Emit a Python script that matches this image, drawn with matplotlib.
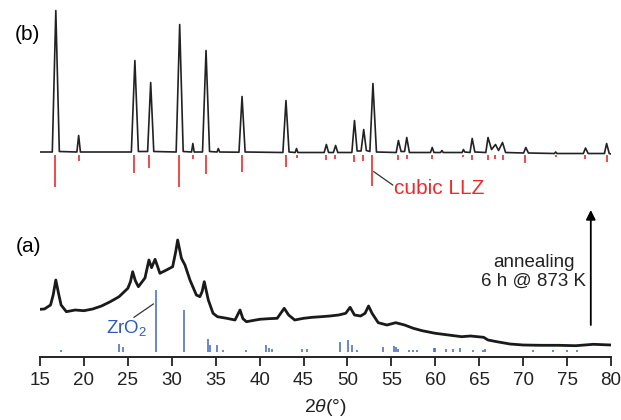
import matplotlib
matplotlib.use("Agg")
import matplotlib.pyplot as plt

# (b) pattern after annealing: 2theta and counts above its own baseline
b_two_theta = [15.0,
               16.4, 16.8, 17.2, 19.2, 19.4, 19.6,
               25.4, 25.8, 26.2, 27.25, 27.6, 27.95,
               30.5, 30.9, 31.3, 32.25, 32.4, 32.55,
               33.5, 33.9, 34.3, 35.15, 35.3, 35.45,
               37.65, 38.0, 38.35, 42.65, 43.0, 43.35, 44.05, 44.2, 44.35,
               47.35, 47.6, 47.85, 48.4, 48.65, 48.9,
               50.5, 50.8, 51.1, 51.55, 51.85, 52.15, 52.55, 52.9, 53.3,
               55.55, 55.8, 56.1, 56.5, 56.75, 57.05,
               59.45, 59.65, 59.85, 60.6, 60.75, 60.9,
               63.05, 63.2, 63.35, 63.95, 64.2, 64.5,
               65.75, 66.0, 66.4, 66.85, 67.2, 67.65, 68.0,
               70.05, 70.3, 70.6, 73.55, 73.7, 73.85,
               76.85, 77.1, 77.4, 79.25, 79.5, 79.8, 80.0]
b_counts = [0.5,
            0.5, 142, 1, 0.5, 17, 0.5,
            0.5, 92, 1, 1, 70, 1,
            0.5, 128, 1, 0.5, 9, 0.5,
            0.5, 102, 1, 0.5, 4, 0.5,
            0.3, 56, 0.5, 0, 52, 0.5, 0, 4, 0,
            0, 8, 0, 0, 7, 0,
            0, 32, 1.5, 1.5, 23, 2, 1, 69, 0.5,
            0, 12, 1, 1, 15, 0,
            0, 5, 0, 0, 2, 0,
            0, 3, 0.5, 0, 14, 0.5,
            0, 15, 3, 8, 2, 10, 0,
            -0.5, 5, -0.5, -1, 0.5, -1,
            -1, 4.5, -1, -1, 9, -1, -1.5]

# (a) as-prepared pattern
a_two_theta = [15.0, 15.5, 16.2, 16.5, 16.8, 17.1, 17.4, 18.0, 19.0, 20.0,
               21.0, 22.0, 23.0, 24.0, 25.0, 25.3, 25.55, 25.85, 26.2, 26.95,
               27.4, 27.7, 28.1, 28.65, 29.4, 30.1, 30.45, 30.67, 31.1, 31.5,
               32.07, 32.8, 33.2, 33.45, 33.7, 34.16, 34.7, 35.2, 36.25, 37.2,
               37.77, 38.1, 38.5, 40.0, 41.0, 42.0, 42.8, 43.3, 44.0, 45.0,
               46.0, 47.0, 48.0, 49.0, 49.8, 50.3, 50.8, 51.5, 52.0, 52.4,
               52.8, 53.5, 54.5, 55.5, 56.5, 57.5, 58.5, 60.0, 61.5, 63.0,
               64.0, 65.5, 66.0, 67.0, 68.5, 70.0, 72.0, 74.0, 76.0, 78.0,
               80.0]
a_counts = [42.4, 42.7, 46.7, 56.7, 71.7, 58.7, 46.7, 40.0, 41.7, 41.0,
            42.7, 45.7, 50.0, 55.0, 63.4, 70.0, 80.0, 71.0, 65.0, 73.7,
            91.7, 84.0, 92.4, 78.4, 81.7, 85.0, 100.0, 111.7, 93.4, 86.7,
            71.7, 56.7, 55.0, 60.0, 70.0, 51.7, 38.4, 35.0, 33.4, 31.7,
            41.7, 33.0, 30.0, 32.4, 33.0, 33.4, 43.4, 36.7, 31.7, 33.4,
            34.4, 35.0, 35.7, 36.7, 38.4, 44.4, 36.7, 35.7, 38.4, 45.7,
            38.4, 29.0, 26.7, 29.0, 26.7, 23.4, 21.0, 18.4, 16.7, 15.0,
            15.7, 14.4, 11.7, 10.0, 7.7, 6.7, 6.4, 6.4, 6.0, 7.4,
            6.7]

# reference reflections, relative intensity in %
llz_two_theta = [16.75, 19.4, 25.75, 27.45, 30.85, 32.4, 33.85, 38.0, 43.0, 44.2,
                 47.6, 48.6, 50.8, 51.8, 52.85, 55.8, 56.75, 59.65, 63.2, 64.15,
                 65.95, 66.85, 67.7, 70.25, 73.7, 77.05, 79.5]
llz_rel = [97, 18, 54, 40, 97, 13, 58, 50, 38, 10,
           16, 13, 22, 20, 92, 15, 13, 13, 8, 16,
           16, 13, 16, 26, 8, 13, 23]

zro2_two_theta = [17.4, 24.0, 24.4, 28.17, 31.4, 34.1, 34.35, 35.2, 35.8, 38.5,
                  40.7, 41.1, 41.4, 44.85, 45.45, 49.2, 50.05, 50.5, 51.1, 54.1,
                  55.3, 55.5, 55.8, 57.0, 57.5, 57.9, 59.8, 60.0, 61.2, 62.0,
                  62.8, 64.3, 65.45, 65.7, 71.1, 73.4, 75.0, 76.1]
zro2_rel = [3, 13, 8, 100, 68, 21, 11, 11, 3, 3,
            11, 6, 5, 5, 5, 16, 19, 11, 3, 8,
            10, 8, 5, 3, 3, 3, 6, 6, 5, 5,
            6, 3, 3, 5, 2, 2, 2, 2]

xticks = [15, 20, 25, 30, 35, 40, 45, 50, 55, 60, 65, 70, 75, 80]


def main():
    plt.rcParams["font.family"] = ["Liberation Sans", "DejaVu Sans"]
    plt.rcParams["mathtext.fontset"] = "custom"
    plt.rcParams["mathtext.rm"] = "Liberation Sans"
    plt.rcParams["mathtext.it"] = "Liberation Sans:italic"

    fig = plt.figure(figsize=(6.21, 4.20), dpi=100)
    ax = fig.add_axes([40 / 621, 63 / 420, 571 / 621, 357 / 420])

    offset_a = 5.3
    offset_b = 204.5
    llz_top = 202.5
    llz_scale = 0.34
    zro2_scale = 0.62

    ax.plot(a_two_theta, [c + offset_a for c in a_counts], color="#1a1a1a", lw=2.0)
    ax.plot(b_two_theta, [c + offset_b for c in b_counts], color="#222222", lw=1.2)

    ax.vlines(llz_two_theta, [llz_top - r * llz_scale for r in llz_rel], llz_top,
              color="#ee2a2a", lw=1.2)
    ax.vlines(zro2_two_theta, offset_a, [offset_a + r * zro2_scale for r in zro2_rel],
              color="#4066c4", lw=1.1)

    # labels with leader lines
    ax.plot([53.0, 55.15], [185.3, 172.0], color="#333333", lw=0.9)
    ax.text(55.35, 169, "cubic LLZ", color="#ee2a2a", fontsize=15,
            ha="left", va="center")
    ax.plot([25.7, 27.9], [39.7, 53.0], color="#333333", lw=0.9)
    ax.text(24.9, 29, "ZrO$_2$", color="#2f5bb8", fontsize=13.5,
            ha="center", va="center")

    ax.text(13.55, 322, "(b)", fontsize=15, ha="center", va="center", clip_on=False)
    ax.text(13.65, 110.3, "(a)", fontsize=15, ha="center", va="center", clip_on=False)

    ax.annotate("", xy=(77.7, 147), xytext=(77.7, 32),
                arrowprops=dict(arrowstyle="-|>", lw=1.3, color="black",
                                mutation_scale=14, shrinkA=0, shrinkB=0))
    ax.text(71.2, 85, "annealing\n6 h @ 873 K", fontsize=13.5, ha="center",
            va="center", linespacing=1.1, color="#222222")

    ax.set_xlim(15, 80)
    ax.set_ylim(0, 357)
    ax.set_xticks(xticks)
    ax.set_yticks([])
    for side in ["top", "right", "left"]:
        ax.spines[side].set_visible(False)
    ax.spines["bottom"].set_linewidth(1.4)
    ax.spines["bottom"].set_color("#222222")
    ax.tick_params(axis="x", direction="out", length=6.5, width=1.3,
                   labelsize=13.5, pad=4, colors="#222222")

    ax.set_xlabel("2$\\theta$(°)", fontsize=14, color="#222222")
    ax.xaxis.set_label_coords(0.5, -(407 - 357) / 357)
    ax.xaxis.label.set_verticalalignment("center")

    fig.savefig("out.png", dpi=100)


if __name__ == "__main__":
    main()
